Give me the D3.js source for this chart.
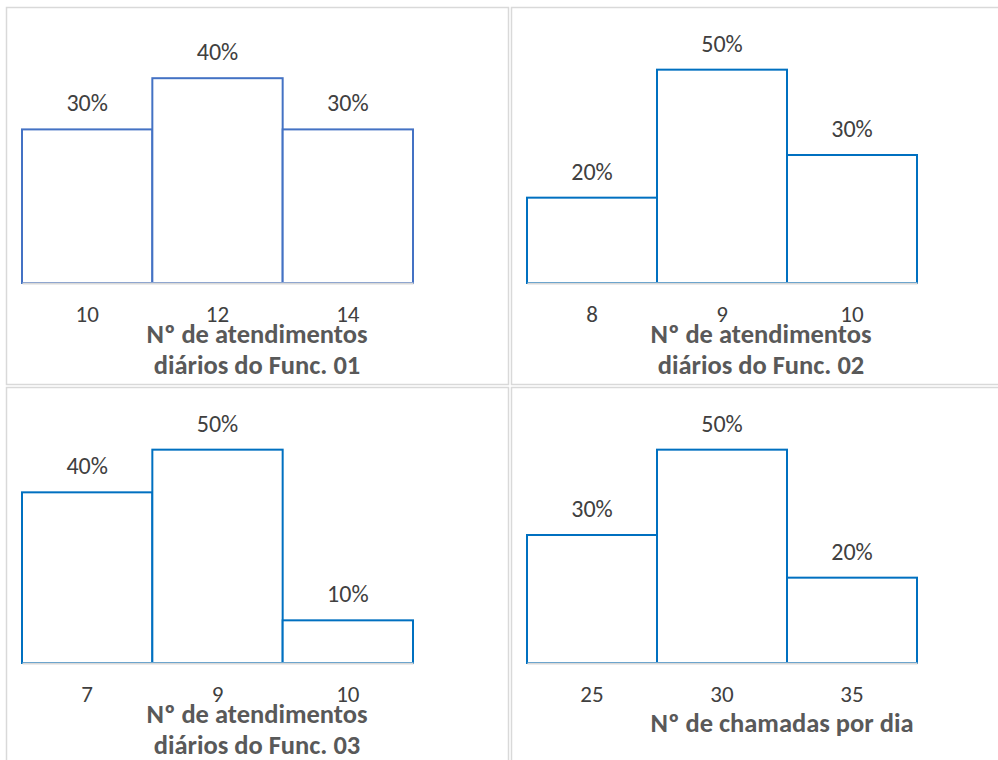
<!DOCTYPE html>
<html>
<head>
<meta charset="utf-8">
<script src="https://cdn.jsdelivr.net/npm/d3@7"></script>
<style>
  html, body { margin: 0; padding: 0; background: #ffffff; }
  svg { display: block; }
  text { font-family: Calibri, Carlito, Lato, sans-serif; }
</style>
</head>
<body>
<svg id="chart" width="998" height="760"></svg>
<script>
// ---- data ----
const categories1 = ["10", "12", "14"];
const values1 = [0.30, 0.40, 0.30];
const categories2 = ["8", "9", "10"];
const values2 = [0.20, 0.50, 0.30];
const categories3 = ["7", "9", "10"];
const values3 = [0.40, 0.50, 0.10];
const categories4 = ["25", "30", "35"];
const values4 = [0.30, 0.50, 0.20];
const titles1 = ["Nº de atendimentos", "diários do Func. 01"];
const titles2 = ["Nº de atendimentos", "diários do Func. 02"];
const titles3 = ["Nº de atendimentos", "diários do Func. 03"];
const titles4 = ["Nº de chamadas por dia"];
const yMax = [0.5, 0.6, 0.6, 0.6];

// ---- layout ----
const panels = [
  { cats: categories1, vals: values1, title: titles1, ymax: yMax[0], oy: 0,   color: "#4472C4", frame: [6.5, 7.5, 502, 377], x0: 22,  x1: 413, tx: 257 },
  { cats: categories2, vals: values2, title: titles2, ymax: yMax[1], oy: 0,   color: "#0070C0", frame: [511.5, 7.5, 500, 377], x0: 527, x1: 917, tx: 761 },
  { cats: categories3, vals: values3, title: titles3, ymax: yMax[2], oy: 380, color: "#0070C0", frame: [6.5, 387.5, 502, 380], x0: 22,  x1: 413, tx: 257 },
  { cats: categories4, vals: values4, title: titles4, ymax: yMax[3], oy: 380, color: "#0070C0", frame: [511.5, 387.5, 500, 380], x0: 527, x1: 917, tx: 782 }
];

const svg = d3.select("#chart");
svg.append("rect").attr("width", 998).attr("height", 760).attr("fill", "#ffffff");

const fmt = d3.format(".0%");

panels.forEach((p, i) => {
  const g = svg.append("g").attr("transform", `translate(0,${p.oy})`);
  svg.append("rect")
    .attr("x", p.frame[0]).attr("y", p.frame[1])
    .attr("width", p.frame[2]).attr("height", p.frame[3])
    .attr("fill", "none").attr("stroke", "#D9D9D9").attr("stroke-width", 1.5);

  const x = d3.scaleBand().domain(p.cats).range([p.x0, p.x1]).padding(0);
  const y = d3.scaleLinear().domain([0, p.ymax]).range([283, 27]);

  const data = p.cats.map((c, k) => ({ c, v: p.vals[k] }));

  g.selectAll("rect.bar").data(data).enter().append("rect")
    .attr("class", "bar")
    .attr("x", d => x(d.c))
    .attr("y", d => y(d.v))
    .attr("width", x.bandwidth())
    .attr("height", d => y(0) - y(d.v))
    .attr("fill", "#ffffff")
    .attr("stroke", p.color)
    .attr("stroke-width", 2);

  g.selectAll("text.lbl").data(data).enter().append("text")
    .attr("class", "lbl")
    .attr("x", d => x(d.c) + x.bandwidth() / 2)
    .attr("y", d => y(d.v) - 18)
    .attr("text-anchor", "middle")
    .attr("font-size", 24)
    .attr("fill", "#404040")
    .text(d => fmt(d.v));

  const axis = g.append("g").attr("transform", `translate(0,${y(0)})`)
    .call(d3.axisBottom(x).tickSize(0).tickSizeOuter(0));
  axis.select(".domain").attr("stroke", "#D9D9D9").attr("stroke-width", 2);
  axis.selectAll("text")
    .attr("y", 39).attr("dy", 0)
    .attr("font-size", 23)
    .attr("fill", "#404040")
    .style("font-family", "Calibri, Carlito, Lato, sans-serif");

  const tBase = p.title.length === 1 ? 352 : 343;
  g.selectAll("text.ttl").data(p.title).enter().append("text")
    .attr("class", "ttl")
    .attr("x", p.tx)
    .attr("y", (d, k) => tBase + k * 31)
    .attr("text-anchor", "middle")
    .attr("font-size", 26.5)
    .attr("font-weight", "bold")
    .attr("fill", "#595959")
    .text(d => d);
});
</script>
</body>
</html>
